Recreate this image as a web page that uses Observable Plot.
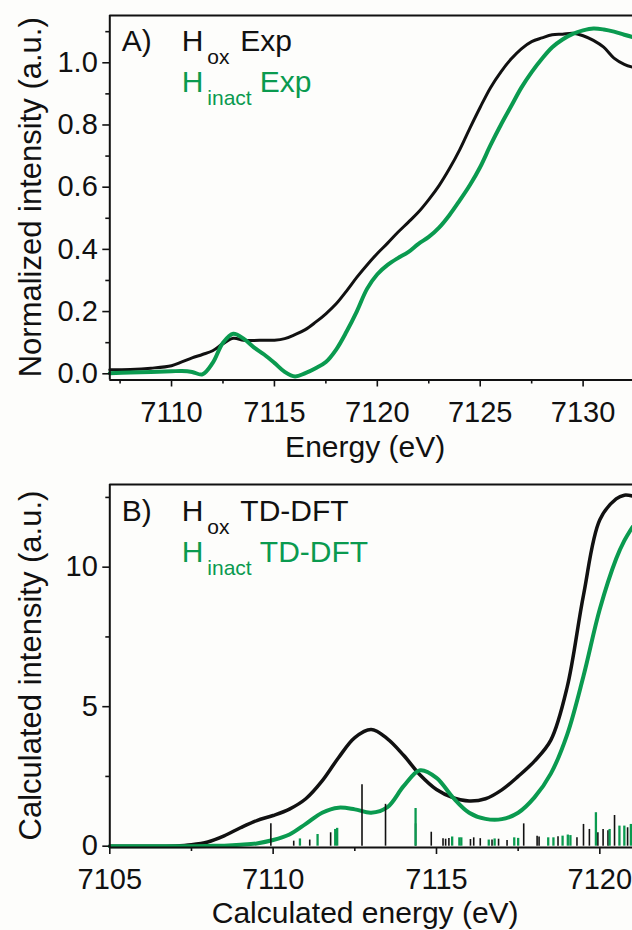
<!DOCTYPE html>
<html><head><meta charset="utf-8">
<script src="https://cdn.jsdelivr.net/npm/d3@7"></script>
<script src="https://cdn.jsdelivr.net/npm/@observablehq/plot@0.6"></script>
<style>
body{margin:0;background:#fdfdfb;}
#chart{width:632px;height:930px;overflow:hidden;}
#chart svg{display:block;}
</style></head><body><div id="chart"></div>
<script>
const FONT = '"Liberation Sans", Arial, Helvetica, sans-serif';
const GREEN = "#0a9a4f";
const INK = "#111111";

// ---- Panel A: experimental spectra ----
const expEnergy = [7107,7108,7109,7110,7110.5,7111,7111.5,7112,7112.5,7113,7113.5,7114,7114.5,7115,7115.5,7116,7116.5,7117,7117.5,7118,7118.5,7119,7119.5,7120,7120.5,7121,7121.5,7122,7122.5,7123,7123.5,7124,7124.5,7125,7125.5,7126,7126.5,7127,7127.5,7128,7128.5,7129,7129.5,7130,7130.5,7131,7131.5,7132,7132.4];
const expHox = [0.013,0.014,0.018,0.026,0.038,0.051,0.062,0.074,0.097,0.114,0.108,0.107,0.108,0.108,0.113,0.126,0.142,0.166,0.193,0.225,0.266,0.31,0.35,0.387,0.42,0.455,0.487,0.52,0.56,0.605,0.659,0.72,0.79,0.857,0.92,0.97,1.012,1.045,1.068,1.08,1.09,1.092,1.095,1.087,1.072,1.05,1.015,0.995,0.986];
const expHinact = [0.002,0.004,0.006,0.008,0.009,0.006,-0.002,0.035,0.1,0.129,0.113,0.085,0.062,0.035,0.006,-0.009,0.002,0.018,0.038,0.078,0.135,0.2,0.273,0.32,0.35,0.372,0.391,0.418,0.44,0.47,0.51,0.557,0.607,0.665,0.735,0.8,0.86,0.92,0.97,1.013,1.05,1.075,1.093,1.104,1.11,1.107,1.1,1.09,1.083];

// ---- Panel B: TD-DFT spectra ----
const calcEnergy = [7105,7106,7107,7107.5,7108,7108.5,7109,7109.5,7110,7110.5,7111,7111.5,7112,7112.5,7113,7113.5,7114,7114.5,7115,7115.5,7116,7116.5,7117,7117.5,7118,7118.5,7119,7119.5,7120,7120.5,7120.75,7121];
const calcHox = [0,0,0.01,0.05,0.15,0.37,0.66,0.92,1.1,1.33,1.7,2.34,3.17,3.89,4.18,3.85,3.25,2.55,2.03,1.74,1.62,1.7,2.02,2.5,3.05,3.8,5.7,9.0,11.7,12.45,12.58,12.55];
const calcHinact = [0,0,0,0,0.01,0.02,0.05,0.1,0.22,0.42,0.8,1.2,1.38,1.32,1.2,1.4,2.16,2.72,2.45,1.75,1.2,0.98,0.97,1.2,1.75,2.6,4.0,6.1,8.5,10.3,10.95,11.44];

// stick spectra (transition energies, intensities)
const stickHoxE = [7109.93,7110.63,7111.12,7111.76,7112.72,7113.44,7114.36,7114.84,7115.2,7115.28,7115.38,7116.04,7116.14,7116.34,7116.7,7116.9,7117.16,7117.67,7118.08,7118.14,7118.72,7119.3,7119.5,7119.68,7119.94,7120.1,7120.25,7120.45,7120.85];
const stickHoxI = [0.8,0.18,0.22,0.48,2.2,1.5,0.8,0.5,0.27,0.25,0.28,0.24,0.3,0.27,0.22,0.25,0.2,0.8,0.36,0.33,0.34,0.3,0.78,0.6,0.48,0.6,0.55,1.1,0.66];
const stickHinactE = [7110.82,7111.36,7111.9,7111.96,7114.36,7115.48,7115.7,7115.76,7116.6,7116.78,7117.38,7117.5,7118.42,7118.58,7118.86,7119.02,7119.1,7119.88,7120.3,7120.6,7120.75,7120.95];
const stickHinactI = [0.26,0.42,0.6,0.64,1.35,0.33,0.3,0.3,0.22,0.26,0.3,0.28,0.3,0.3,0.36,0.4,0.38,1.2,0.6,0.72,0.72,0.78];

// ---- ticks ----
const aXMajor = [7110,7115,7120,7125,7130];
const aXMinor = [7107.5,7112.5,7117.5,7122.5,7127.5];
const aYMajor = [0,0.2,0.4,0.6,0.8,1.0];
const aYMinor = [0.1,0.3,0.5,0.7,0.9,1.1];
const bXMajor = [7105,7110,7115,7120];
const bXMinor = [7107.5,7112.5,7117.5];
const bYMajor = [0,5,10];
const bYMinor = [2.5,7.5,12.5];

const aXDomain = [7107, 7132.4];
const aYDomain = [-0.02, 1.152];
const bXDomain = [7105, 7121];
const bYDomain = [-0.047, 12.963];

const rows = (xs, ys) => xs.map((x, i) => ({x, y: ys[i]}));

function legendMarks(tag, word, dyTop, dyBottom) {
  const T = (s, o) => Plot.text([s], {text: d => d, frameAnchor: "top-left", textAnchor: "start", lineAnchor: "bottom", fontSize: 30, fill: INK, ...o});
  return [
    T(tag, {dx: 12, dy: dyTop}),
    T("H", {dx: 72, dy: dyTop}),
    T("ox", {dx: 97.5, dy: dyTop + 13, fontSize: 21}),
    T(word, {dx: 130.5, dy: dyTop}),
    T("H", {dx: 72, dy: dyBottom, fill: GREEN}),
    T("inact", {dx: 97.5, dy: dyBottom + 12.5, fontSize: 21, fill: GREEN}),
    T(word, {dx: 150, dy: dyBottom, fill: GREEN})
  ];
}

function panel(cfg) {
  const marks = [];
  for (const s of cfg.lines) {
    marks.push(Plot.line(s.data, {x: "x", y: "y", stroke: s.color, strokeWidth: s.width, curve: cfg.curve}));
  }
  for (const s of (cfg.sticks || [])) {
    marks.push(Plot.ruleX(s.data, {x: "x", y1: 0, y2: "y", stroke: s.color, strokeWidth: s.width}));
  }
  marks.push(
    Plot.ruleX([cfg.xDomain[0]], {stroke: INK, strokeWidth: 2}),
    Plot.ruleY([cfg.yDomain[0], cfg.yDomain[1]], {stroke: INK, strokeWidth: 2}),
    Plot.axisX({ticks: cfg.xMajor, tickSize: 7, tickPadding: 14, tickFormat: d3.format("d"), fontSize: 29, color: INK, strokeWidth: 1.6, label: null}),
    Plot.axisX({ticks: cfg.xMinor, tickSize: 4, tickFormat: () => "", color: INK, strokeWidth: 1.6, label: null}),
    Plot.axisY({ticks: cfg.yMajor, tickSize: 7, tickPadding: 5, tickFormat: cfg.yFmt, fontSize: 29, color: INK, strokeWidth: 1.6, label: null}),
    Plot.axisY({ticks: cfg.yMinor, tickSize: 4, tickFormat: () => "", color: INK, strokeWidth: 1.6, label: null}),
    Plot.text([cfg.xTitle], {text: d => d, frameAnchor: "bottom", dx: -6, dy: cfg.xTitleDy, lineAnchor: "bottom", fontSize: 30, fill: INK}),
    ...cfg.legend
  );
  const svg = Plot.plot({
    width: 632, height: cfg.height,
    marginLeft: 109.3, marginRight: 0, marginTop: cfg.marginTop, marginBottom: cfg.marginBottom,
    x: {domain: cfg.xDomain, axis: null},
    y: {domain: cfg.yDomain, axis: null},
    style: {fontFamily: FONT, background: "transparent", overflow: "visible", color: INK},
    marks
  });
  // rotated y-axis title, centred on the frame
  const cy = (cfg.marginTop + cfg.height - cfg.marginBottom) / 2;
  d3.select(svg).append("text")
    .attr("transform", `translate(30,${cy}) rotate(-90)`)
    .attr("text-anchor", "middle")
    .attr("dy", "0.35em")
    .attr("font-size", 31)
    .attr("fill", INK)
    .attr("font-family", FONT)
    .text(cfg.yTitle);
  return svg;
}

const chart = document.getElementById("chart");

chart.appendChild(panel({
  height: 460, marginTop: 15, marginBottom: 80.5,
  xDomain: aXDomain, yDomain: aYDomain,
  xMajor: aXMajor, xMinor: aXMinor, yMajor: aYMajor, yMinor: aYMinor,
  yFmt: d3.format(".1f"),
  xTitle: "Energy (eV)", xTitleDy: 76.5,
  yTitle: "Normalized intensity (a.u.)",
  curve: "catmull-rom",
  lines: [
    {data: rows(expEnergy, expHox), color: INK, width: 3},
    {data: rows(expEnergy, expHinact), color: GREEN, width: 4}
  ],
  legend: legendMarks("A)", "Exp", 35, 76.7)
}));

chart.appendChild(panel({
  height: 470, marginTop: 24, marginBottom: 83,
  xDomain: bXDomain, yDomain: bYDomain,
  xMajor: bXMajor, xMinor: bXMinor, yMajor: bYMajor, yMinor: bYMinor,
  yFmt: d3.format("d"),
  xTitle: "Calculated energy (eV)", xTitleDy: 75,
  yTitle: "Calculated intensity (a.u.)",
  curve: "catmull-rom",
  lines: [
    {data: rows(calcEnergy, calcHox), color: INK, width: 3.5},
    {data: rows(calcEnergy, calcHinact), color: GREEN, width: 4}
  ],
  sticks: [
    {data: rows(stickHoxE, stickHoxI), color: INK, width: 1.6},
    {data: rows(stickHinactE, stickHinactI), color: GREEN, width: 2.3}
  ],
  legend: legendMarks("B)", "TD-DFT", 36, 77.7)
}));
</script></body></html>
